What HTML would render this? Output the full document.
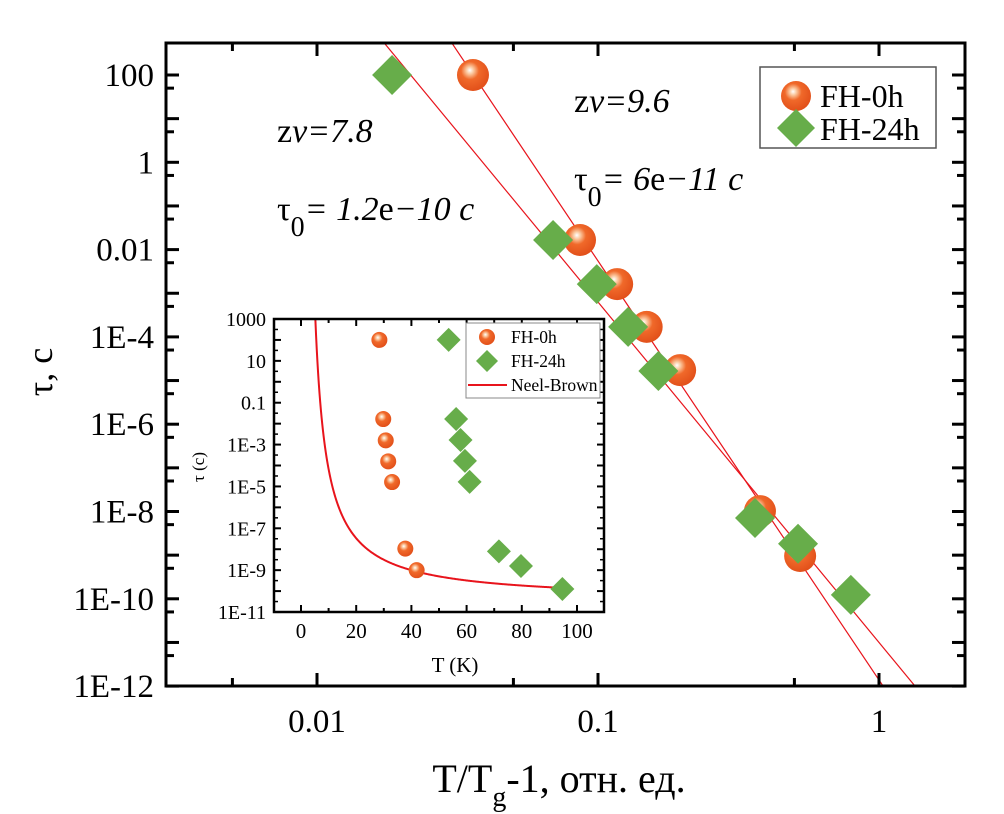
<!DOCTYPE html>
<html><head><meta charset="utf-8"><style>
html,body{margin:0;padding:0;background:#fff}
svg{display:block;font-family:"Liberation Serif",serif}
</style></head><body>
<svg id="chart" width="1004" height="814" viewBox="0 0 1004 814" xmlns="http://www.w3.org/2000/svg">
<defs>
<radialGradient id="ball" cx="0.42" cy="0.38" r="0.62" fx="0.4" fy="0.35">
<stop offset="0" stop-color="#ffffff"/><stop offset="0.18" stop-color="#fbc9a0"/><stop offset="0.45" stop-color="#f0692a"/><stop offset="1" stop-color="#e2501a"/>
</radialGradient>
</defs>
<g id="main"></g>
<g id="inset"></g>
</svg>
<script>
// ===== main chart data =====
const mainCircX = [0.0359, 0.0863, 0.117, 0.149, 0.196, 0.377, 0.524];
const mainCircLogTau = [2.0, -1.78, -2.79, -3.77, -4.76, -7.99, -9.02];
const mainDiamX = [0.0185, 0.0692, 0.099, 0.128, 0.164, 0.362, 0.515, 0.794];
const mainDiamLogTau = [2.0, -1.78, -2.79, -3.77, -4.78, -8.15, -8.74, -9.91];
const fitSlopes = [9.6, 7.8];          // z*nu
const fitLogIntercepts = [-11.86, -11.0]; // log10 tau at x=1
const yTickLabels = ["1E-12","1E-10","1E-8","1E-6","1E-4","0.01","1","100"];
const yTickLogs = [-12,-10,-8,-6,-4,-2,0,2];
const xTickLabels = ["0.01","0.1","1"];
const xTickLogs = [-2,-1,0];
// ===== inset data =====
const insCircT = [28.4, 29.8, 30.7, 31.6, 33.0, 37.8, 41.9];
const insCircLogTau = [2.0, -1.78, -2.80, -3.80, -4.79, -7.97, -9.0];
const insDiamT = [53.5, 56.2, 57.8, 59.4, 61.1, 71.7, 79.7, 94.7];
const insDiamLogTau = [2.0, -1.78, -2.78, -3.78, -4.78, -8.1, -8.8, -9.9];
const neelParams = [-10.45, 56.5, 1.0]; // logTau = A + B/(T - T0)
const neelRange = [5.2, 92];
const insYTickLabels = ["1E-11","1E-9","1E-7","1E-5","1E-3","0.1","10","1000"];
const insYTickLogs = [-11,-9,-7,-5,-3,-1,1,3];
const insXTicks = [0,20,40,60,80,100];

const NS="http://www.w3.org/2000/svg";
function mk(parent,tag,attrs,text){const e=document.createElementNS(NS,tag);for(const k in attrs)e.setAttribute(k,attrs[k]);if(text!==undefined)e.textContent=text;parent.appendChild(e);return e;}

const L=166,R=965,T=43,B=686;
const xs=v=>879+Math.log10(v)*281;
const xl=l=>879+l*281;
const ys=l=>75+(2-l)*43.65;
const main=document.getElementById('main');

mk(main,'clipPath',{id:'mclip'});
mk(document.getElementById('mclip'),'rect',{x:L,y:T,width:R-L,height:B-T});
fitSlopes.forEach((s,i)=>{
  const l0=-2.4,l1=0.3;
  const ln=mk(main,'line',{x1:xl(l0),y1:ys(fitLogIntercepts[i]-s*l0),x2:xl(l1),y2:ys(fitLogIntercepts[i]-s*l1),stroke:'#e8141c','stroke-width':1.2,'clip-path':'url(#mclip)'});
  
  
});

const fr=mk(main,'rect',{x:L,y:T,width:R-L,height:B-T,fill:'none',stroke:'#000','stroke-width':3});



for(let d=-3;d<=0;d++){[1,5].forEach(m=>{
  const x=xl(d+Math.log10(m)); if(x<L+2||x>R-2)return;
  const len=m===1?13:8;
  mk(main,'line',{x1:x,y1:B,x2:x,y2:B-len,stroke:'#000','stroke-width':3});
  mk(main,'line',{x1:x,y1:T,x2:x,y2:T+len,stroke:'#000','stroke-width':3});
});}
xTickLabels.forEach((t,i)=>{
  const e=mk(main,'text',{x:xl(xTickLogs[i]),y:732,'text-anchor':'middle','font-size':33},t);
  
  
});
for(let d=-12;d<=2;d++){
  const y=ys(d);
  [[L,L+13],[R,R-13]].forEach(p=>mk(main,'line',{x1:p[0],y1:y,x2:p[1],y2:y,stroke:'#000','stroke-width':3}));
  const y2=ys(d+Math.log10(5)); if(y2>T+2){[[L,L+8],[R,R-8]].forEach(p=>mk(main,'line',{x1:p[0],y1:y2,x2:p[1],y2:y2,stroke:'#000','stroke-width':3}));}
}
yTickLabels.forEach((t,i)=>{
  const e=mk(main,'text',{x:154,y:ys(yTickLogs[i])+11,'text-anchor':'end','font-size':33},t);
  
  
});
const yt=mk(main,'text',{x:0,y:0,'font-size':36,'text-anchor':'middle',transform:'translate(52,372) rotate(-90)'},'τ, c');


const xt=mk(main,'text',{x:559,y:792,'font-size':40,'text-anchor':'middle'});


xt.setAttribute('xml:space','preserve');
xt.innerHTML='T/T<tspan dy="14" font-size="28">g</tspan><tspan dy="-14">-1,  отн. ед.</tspan>';

function circle(g,x,y,r,name){const c=mk(g,'circle',{cx:x,cy:y,r:r,fill:'url(#ball)'});return c;}
function diamond(g,x,y,h,name){const p=mk(g,'polygon',{points:`${x},${y-h} ${x+h},${y} ${x},${y+h} ${x-h},${y}`,fill:'#67ad4a'});return p;}

mainCircX.forEach((v,i)=>circle(main,xs(v),ys(mainCircLogTau[i]),16,'point-fh-0h'));
mainDiamX.forEach((v,i)=>diamond(main,xs(v),ys(mainDiamLogTau[i]),20,'point-fh-24h'));

function ann(x,y,html,name){const e=mk(main,'text',{x:x,y:y,'font-size':34});e.innerHTML=html;}
ann(277,142,'z<tspan font-style="italic">ν=7.8</tspan>','annotation-znu-7-8');
ann(277,220,'τ<tspan dy="16" font-size="28">0</tspan><tspan dy="-16" font-style="italic">= 1.2</tspan>e<tspan font-style="italic">−10 c</tspan>','annotation-tau0-1-2e-10');
ann(574,112,'z<tspan font-style="italic">ν=9.6</tspan>','annotation-znu-9-6');
ann(574,190,'τ<tspan dy="16" font-size="28">0</tspan><tspan dy="-16" font-style="italic">= 6</tspan>e<tspan font-style="italic">−11 c</tspan>','annotation-tau0-6e-11');

const lg=mk(main,'g',{});


mk(lg,'rect',{x:760,y:67,width:176,height:81,fill:'#fff',stroke:'#555','stroke-width':1.5});
circle(lg,796,96,15,'legend-marker-fh-0h');
diamond(lg,796,128,19,'legend-marker-fh-24h');
const l1=mk(lg,'text',{x:820,y:107,'font-size':32},'FH-0h');
const l2=mk(lg,'text',{x:820,y:140,'font-size':32},'FH-24h');

// ===== inset =====
const ins=document.getElementById('inset');


const iL=274,iR=604,iT=319,iB=612;
const ix=t=>301+t*2.76;
const iy=l=>iT+(3-l)*20.93;
mk(ins,'rect',{x:iL,y:iT,width:iR-iL,height:iB-iT,fill:'#fff'});
mk(ins,'clipPath',{id:'iclip'});
mk(document.getElementById('iclip'),'rect',{x:iL,y:iT,width:iR-iL,height:iB-iT});
let d='';
for(let t=neelRange[0];t<=neelRange[1];t+=0.25){
  const l=neelParams[0]+neelParams[1]/(t-neelParams[2]);
  d+=(d?'L':'M')+ix(t).toFixed(2)+','+iy(l).toFixed(2);
}
const nb=mk(ins,'path',{d:d,fill:'none',stroke:'#e8141c','stroke-width':2,'clip-path':'url(#iclip)'});


for(let l=-11;l<=3;l++){
  const y=iy(l);
  [[iL,iL+7],[iR,iR-7]].forEach(p=>mk(ins,'line',{x1:p[0],y1:y,x2:p[1],y2:y,stroke:'#000','stroke-width':2}));
  const y2=iy(l+0.5); if(l<3)[[iL,iL+4],[iR,iR-4]].forEach(p=>mk(ins,'line',{x1:p[0],y1:y2,x2:p[1],y2:y2,stroke:'#000','stroke-width':1.5}));
}
for(let t=-10;t<=110;t+=10){
  const x=ix(t); if(x<iL+1||x>iR-1)continue;
  const len=t%20===0?7:4;
  mk(ins,'line',{x1:x,y1:iB,x2:x,y2:iB-len,stroke:'#000','stroke-width':2});
  mk(ins,'line',{x1:x,y1:iT,x2:x,y2:iT+len,stroke:'#000','stroke-width':2});
}
mk(ins,'rect',{x:iL,y:iT,width:iR-iL,height:iB-iT,fill:'none',stroke:'#000','stroke-width':2.5});
insYTickLabels.forEach((t,i)=>{
  const e=mk(ins,'text',{x:266,y:iy(insYTickLogs[i])+7,'text-anchor':'end','font-size':20},t);
  
  
});
insXTicks.forEach(t=>{
  const e=mk(ins,'text',{x:ix(t),y:638,'text-anchor':'middle','font-size':21},String(t));
  
  
});
const iyt=mk(ins,'text',{x:0,y:0,'font-size':17,'text-anchor':'middle',transform:'translate(204,467) rotate(-90)'},'τ (c)');


const ixt=mk(ins,'text',{x:455,y:672,'font-size':21,'text-anchor':'middle'},'T (K)');


insCircT.forEach((t,i)=>circle(ins,ix(t),iy(insCircLogTau[i]),8,'inset-point-fh-0h'));
insDiamT.forEach((t,i)=>diamond(ins,ix(t),iy(insDiamLogTau[i]),12,'inset-point-fh-24h'));
const il=mk(ins,'g',{});


mk(il,'rect',{x:466,y:323,width:134,height:75,fill:'#fff',stroke:'#888','stroke-width':1});
circle(il,487,337,8,'inset-legend-marker-fh-0h');
diamond(il,487,361,11,'inset-legend-marker-fh-24h');
mk(il,'line',{x1:468,y1:385,x2:507,y2:385,stroke:'#e8141c','stroke-width':2});
[['FH-0h',343],['FH-24h',367],['Neel-Brown',391]].forEach(a=>{
  const e=mk(il,'text',{x:511,y:a[1],'font-size':17.5},a[0]);
  
  
});
</script>
</body></html>
